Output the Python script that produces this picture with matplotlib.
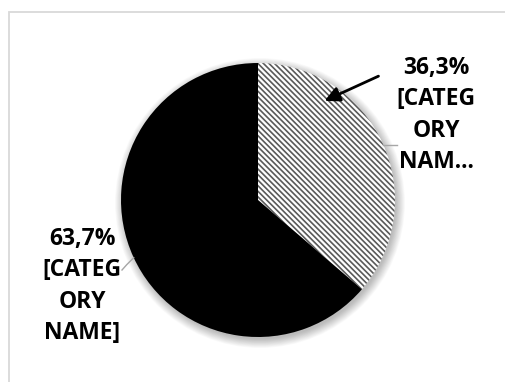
import numpy as np
import matplotlib.pyplot as plt
from matplotlib.patches import Circle, Rectangle

# Share of each category (percent), drawn clockwise from 12 o'clock
values = [36.3, 63.7]
pct_labels = [f"{v:.1f}%".replace('.', ',') for v in values]
name_lines = [["[CATEG", "ORY", "NAM..."], ["[CATEG", "ORY", "NAME]"]]

W, H = 505, 382
fig = plt.figure(figsize=(W / 100, H / 100), dpi=100)
ax = fig.add_axes([0, 0, 1, 1])
ax.set_xlim(0, W)
ax.set_ylim(0, H)
ax.set_aspect('equal')
ax.axis('off')

plt.rcParams['hatch.linewidth'] = 1.2
plt.rcParams['hatch.color'] = '#5a5a5a'

cx, cy, r = 258, H - 200, 137

# chart area border (top and left visible)
ax.add_patch(Rectangle((9, -20), W + 40, H - 12 + 20, fill=False,
                       edgecolor='#d9d9d9', lw=1.3, zorder=0))

# soft drop shadow behind the pie
for k in range(14):
    ax.add_patch(Circle((cx + 2, cy - 3), r + 8 - k * 0.7, color='black',
                        alpha=0.02, lw=0, zorder=1))

wedges, _ = ax.pie(values, startangle=90, counterclock=False,
                   center=(cx, cy), radius=r, colors=['white', 'black'],
                   wedgeprops=dict(linewidth=0), frame=True)
ax.axis('off')
ax.set_xlim(0, W)
ax.set_ylim(0, H)
wedges[0].set_hatch('\\' * 6)
wedges[0].set_edgecolor('#5a5a5a')
wedges[0].set_linewidth(0)
for w in wedges:
    w.set_zorder(2)

font = dict(family='Open Sans', fontweight='bold', fontsize=16.5, color='black',
            ha='center', va='center', linespacing=1.42)

# right label with arrow
ax.text(436, H - 115, "\n".join([pct_labels[0]] + name_lines[0]), **font)
ax.annotate('', xy=(322, H - 102), xytext=(381, H - 75),
            arrowprops=dict(arrowstyle='-|>,head_length=0.9,head_width=0.45',
                            color='black', lw=2))
a = np.deg2rad(23.7)
ax.plot([cx + r * np.cos(a), 397], [cy + r * np.sin(a)] * 2,
        color='#a6a6a6', lw=1, zorder=3)

# left label
ax.text(82, H - 286, "\n".join([pct_labels[1]] + name_lines[1]), **font)
b = np.deg2rad(204.9)
ax.plot([cx + r * np.cos(b), cx + r * np.cos(b) - 7, 122],
        [cy + r * np.sin(b), cy + r * np.sin(b) - 7, H - 270],
        color='#a6a6a6', lw=1, zorder=3)

fig.savefig('out.png', dpi=100, facecolor='white')
